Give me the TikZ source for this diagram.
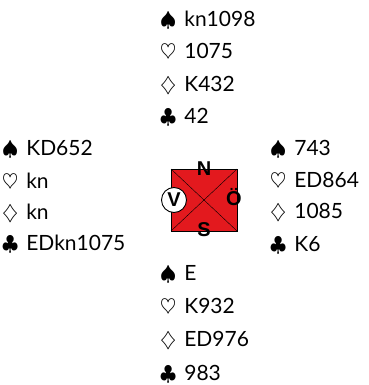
\documentclass[tikz,border=0pt]{standalone}
\usepackage{fontspec}
\setmainfont{Lato}
\newfontfamily\labfont{Liberation Sans}
\definecolor{tablered}{HTML}{E3191E}
\newcommand{\suitsym}[1]{{\fontsize{20}{20}\selectfont$#1$}\hspace{8pt}}
\begin{document}
\begin{tikzpicture}[x=1pt,y=-1pt,
  hand/.style={anchor=base west, inner sep=0pt, font=\fontsize{21}{21}\selectfont},
  seat/.style={inner sep=0pt, font=\labfont\bfseries\fontsize{20}{20}\selectfont},
  table/.style={draw=black, fill=tablered, minimum width=65.5pt, minimum height=61.5pt, inner sep=0pt}]
\useasboundingbox (0,0) rectangle (368,385);
% North
\node[hand] (n1) at (160,27) {\suitsym{\spadesuit}kn1098};
\node[hand] (n2) at (160,59) {\suitsym{\heartsuit}1075};
\node[hand] (n3) at (160,92) {\suitsym{\diamondsuit}K432};
\node[hand] (n4) at (160,123) {\suitsym{\clubsuit}42};
% West
\node[hand] (w1) at (2,155) {\suitsym{\spadesuit}KD652};
\node[hand] (w2) at (2,188) {\suitsym{\heartsuit}kn};
\node[hand] (w3) at (2,219) {\suitsym{\diamondsuit}kn};
\node[hand] (w4) at (2,250) {\suitsym{\clubsuit}EDkn1075};
% East
\node[hand] (e1) at (270,155) {\suitsym{\spadesuit}743};
\node[hand] (e2) at (270,187) {\suitsym{\heartsuit}ED864};
\node[hand] (e3) at (270,218) {\suitsym{\diamondsuit}1085};
\node[hand] (e4) at (270,251) {\suitsym{\clubsuit}K6};
% South
\node[hand] (s1) at (160,280) {\suitsym{\spadesuit}E};
\node[hand] (s2) at (160,313) {\suitsym{\heartsuit}K932};
\node[hand] (s3) at (160,346) {\suitsym{\diamondsuit}ED976};
\node[hand] (s4) at (160,380) {\suitsym{\clubsuit}983};
% Table
\node[table] (sq) at (204,200) {};
\draw (sq.north west) -- (sq.south east);
\draw (sq.north east) -- (sq.south west);
\node[seat] (N) at (204,168.5) {N};
\node[seat] (S) at (204,229.5) {S};
\node[seat, anchor=base] (O) at (234,205.5) {Ö};
\node[seat, draw=black, fill=white, circle, minimum size=25pt, line width=0.9pt] (V) at (174,200) {V};
\end{tikzpicture}
\end{document}
